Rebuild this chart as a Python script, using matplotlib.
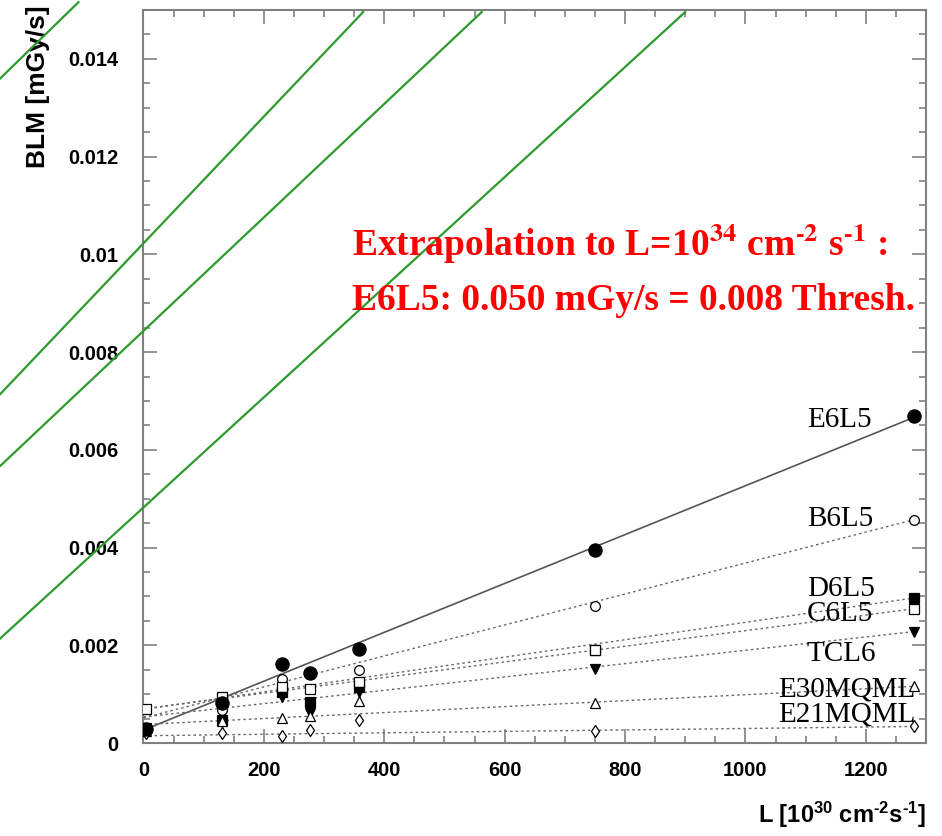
import numpy as np
import matplotlib
matplotlib.use("Agg")
import matplotlib.pyplot as plt
from matplotlib.ticker import MultipleLocator, FuncFormatter

plt.rcParams['mathtext.fontset'] = 'custom'
plt.rcParams['mathtext.rm'] = 'Liberation Sans'
plt.rcParams['mathtext.bf'] = 'Liberation Sans:bold'
plt.rcParams['mathtext.it'] = 'Liberation Sans:italic'

# ---------------- data ----------------
lumi = [5, 131, 230, 277, 358, 750, 1280]

series_names = ["E6L5", "B6L5", "D6L5", "C6L5", "TCL6", "E30MQML", "E21MQML"]
E6L5 = [0.00028, 0.00081, 0.00161, 0.00144, 0.00192, 0.00396, 0.00670]
B6L5 = [0.00030, 0.00067, 0.00131, 0.00110, 0.00149, 0.00280, 0.00457]
D6L5 = [0.00030, 0.00047, 0.00105, 0.00084, 0.00115, 0.00190, 0.00297]
C6L5 = [0.00070, 0.00094, 0.00115, 0.00110, 0.00125, 0.00190, 0.00275]
TCL6 = [0.00028, 0.00043, 0.00094, 0.00061, 0.00105, 0.00152, 0.00228]
E30MQML = [0.00025, 0.00045, 0.00052, 0.00055, 0.00086, 0.00082, 0.00116]
E21MQML = [0.00020, 0.00020, 0.00014, 0.00027, 0.00048, 0.00025, 0.00034]

# linear fit parameters (intercept, slope)
fit_intercept = [0.000265, 0.000515, 0.00069, 0.00070, 0.000534, 0.00038, 0.00015]
fit_slope = [5.0e-6, 3.168e-6, 1.78e-6, 1.60e-6, 1.364e-6, 6.09e-7, 1.48e-7]
fit_range = [0, 1280]

# overlaid green threshold lines (data coordinates of the end points)
green_x0 = [-238, -238, -238, -238]
green_y0 = [0.01360, 0.00714, 0.00567, 0.00214]
green_x1 = [-108, 365, 562, 900]
green_y1 = [0.01516, 0.01496, 0.01496, 0.01496]

# label anchors for the series names
label_x = [1102, 1102, 1102, 1102, 1102, 1054, 1054]
label_y = [0.00647, 0.00445, 0.00300, 0.00249, 0.00167, 0.00096, 0.00045]

xticks = [0, 200, 400, 600, 800, 1000, 1200]
yticks = [0, 0.002, 0.004, 0.006, 0.008, 0.01, 0.012, 0.014]

# ---------------- styling ----------------
values = [E6L5, B6L5, D6L5, C6L5, TCL6, E30MQML, E21MQML]
markers = ['o', 'o', 's', 's', 'v', '^', 'd']
filled = [True, False, True, False, True, False, False]
msizes = [9.5, 7, 6.8, 6.8, 7, 7, 6.5]

fig = plt.figure(figsize=(9.42, 8.36), dpi=100)
ax = fig.add_axes([0.1523, 0.1112, 0.8307, 0.8768])

axcol = '#808080'
for sp in ax.spines.values():
    sp.set_color(axcol)
    sp.set_linewidth(1.5)

xf = np.array(fit_range, dtype=float)
for i, name in enumerate(series_names):
    yf = fit_intercept[i] + fit_slope[i] * xf
    if i == 0:
        ax.plot(xf, yf, color='#555555', lw=1.2, zorder=2)
    else:
        ax.plot(xf, yf, color='#666666', lw=1.0, ls=(0, (1.8, 2.2)), zorder=2)

for i, name in enumerate(series_names):
    fc = 'black' if filled[i] else 'white'
    ax.plot(lumi, values[i], ls='none', marker=markers[i], ms=msizes[i],
            mfc=fc, mec='black', mew=0.9, zorder=5 if i == 0 else 4)
    ax.text(label_x[i], label_y[i], name, ha='left', va='baseline',
            fontsize=21, family='Liberation Serif', color='black', zorder=6)

ax.set_xlim(0, 1300)
ax.set_ylim(0, 0.015)
ax.xaxis.set_major_locator(plt.FixedLocator(xticks))
ax.xaxis.set_minor_locator(MultipleLocator(50))
ax.yaxis.set_major_locator(plt.FixedLocator(yticks))
ax.yaxis.set_minor_locator(MultipleLocator(0.0005))
ax.yaxis.set_major_formatter(FuncFormatter(lambda v, p: '%g' % v))
ax.tick_params(which='both', direction='in', top=True, right=True, color=axcol)
ax.tick_params(which='major', length=10, width=1.2)
ax.tick_params(which='minor', length=5, width=1.2)
ax.tick_params(axis='y', which='major', pad=18)
ax.tick_params(axis='x', which='major', pad=13)
for lab in ax.get_xticklabels() + ax.get_yticklabels():
    lab.set_fontfamily('Liberation Sans')
    lab.set_fontweight('bold')
    lab.set_fontsize(14.5)

ax.set_xlabel('L [10$^{\\mathbf{30}}$ cm$^{\\mathbf{\u20102}}$s$^{\\mathbf{\u20101}}$]',
              family='Liberation Sans', fontweight='bold', fontsize=17,
              ha='right', x=1.0, labelpad=14)
ax.set_ylabel('BLM [mGy/s]', family='Liberation Sans', fontweight='bold',
              fontsize=19, ha='right')
ax.yaxis.set_label_coords(-0.119, 1.007)

# red extrapolation annotation
fig.text(352 / 942, 1 - 256 / 836,
         'Extrapolation to L=10$^{\\mathbf{34}}$ cm$^{\\mathbf{\u20102}}$ s$^{\\mathbf{\u20101}}$ :',
         color='red', fontsize=27, fontweight='bold', family='Liberation Serif',
         math_fontfamily='stix', ha='left', va='baseline', zorder=7)
fig.text(352 / 942, 1 - 310 / 836,
         'E6L5: 0.050 mGy/s = 0.008 Thresh.',
         color='red', fontsize=27, fontweight='bold', family='Liberation Serif',
         ha='left', va='baseline', zorder=7)

# green overlay lines
for i in range(len(green_x0)):
    ax.plot([green_x0[i], green_x1[i]], [green_y0[i], green_y1[i]],
            color='#2e9a2e', lw=1.6, clip_on=False, zorder=10)

fig.savefig('out.png', dpi=100)
